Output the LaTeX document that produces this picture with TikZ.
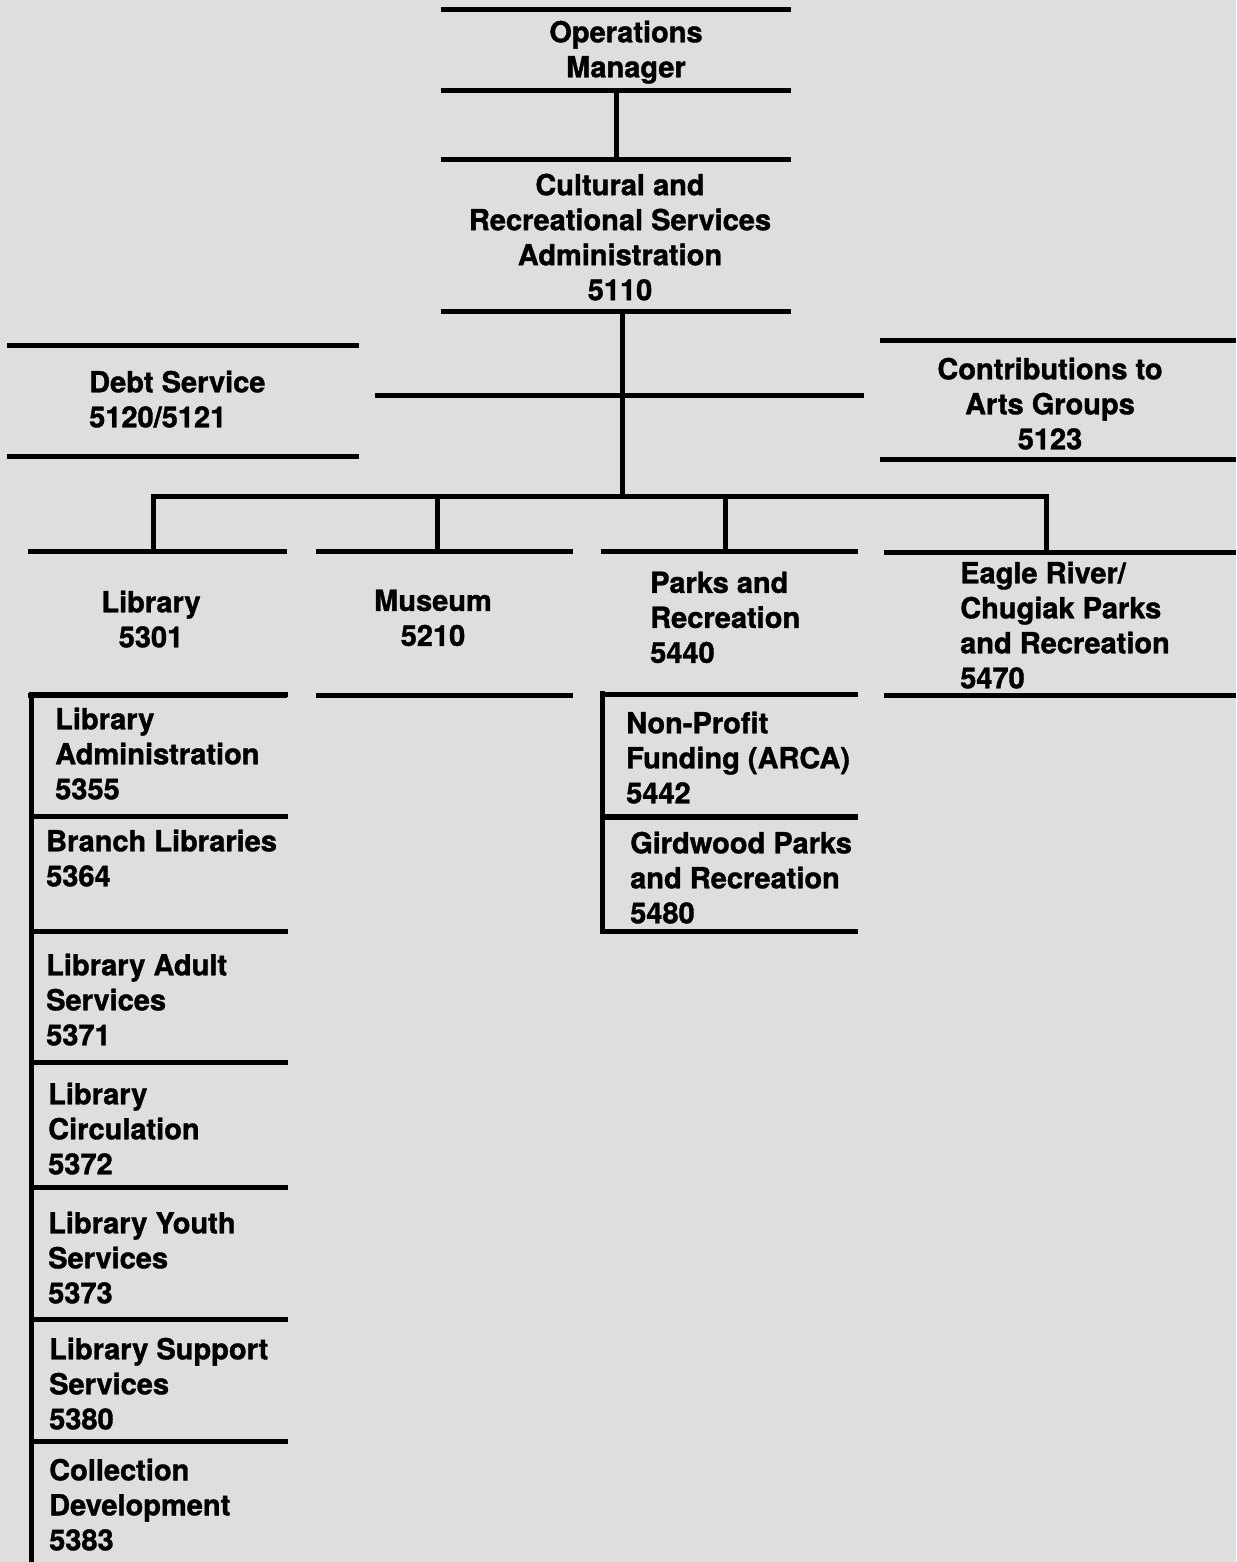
\documentclass[tikz,border=0pt]{standalone}
\usepackage{fontspec}
\setmainfont{TeX Gyre Heros}[BoldFeatures={FakeBold=1.2}]
\definecolor{paper}{RGB}{222,222,222}
\tikzset{
  rule/.style={line width=5pt, line cap=butt, line join=miter},
  area/.style={rectangle, inner sep=0pt, draw=none},
  lbl/.style={inner sep=0pt, font=\fontsize{29}{35}\selectfont\bfseries, text=black},
  ctr/.style={lbl, align=center, anchor=north},
  lft/.style={lbl, align=left, anchor=north west},
}
\begin{document}
\begin{tikzpicture}[x=1pt,y=-1pt]
\fill[paper] (0,0) rectangle (1236,1562);
\useasboundingbox (0,0) rectangle (1236,1562);

% box areas
\node[area, minimum width=350pt, minimum height=80pt]  (opm) at (616,50) {};
\node[area, minimum width=350pt, minimum height=151pt] (cra) at (616,235.5) {};
\node[area, minimum width=352pt, minimum height=110pt] (debt) at (183,401) {};
\node[area, minimum width=356pt, minimum height=118pt] (con) at (1058,400) {};
\node[area, minimum width=259pt, minimum height=143pt] (lib) at (157.5,623.5) {};
\node[area, minimum width=257pt, minimum height=143pt] (mus) at (444.5,623.5) {};
\node[area, minimum width=257pt, minimum height=142pt] (parks) at (729.5,623) {};
\node[area, minimum width=352pt, minimum height=142pt] (eagle) at (1060,624) {};
\node[area, minimum width=255pt, minimum height=123pt] (npf) at (730.5,755.5) {};
\node[area, minimum width=255pt, minimum height=114pt] (gw) at (730.5,874) {};
\node[area, minimum width=256pt, minimum height=122pt] (la) at (160,756) {};
\node[area, minimum width=256pt, minimum height=115pt] (bl) at (160,874.5) {};
\node[area, minimum width=256pt, minimum height=131pt] (las) at (160,997.5) {};
\node[area, minimum width=256pt, minimum height=125pt] (lc) at (160,1125.5) {};
\node[area, minimum width=256pt, minimum height=132pt] (ly) at (160,1254) {};
\node[area, minimum width=256pt, minimum height=122pt] (lss) at (160,1381) {};
\node[area, minimum width=256pt, minimum height=124pt] (cd) at (160,1504) {};

% rules of the boxes
\foreach \b in {opm,cra,debt,con,lib,mus,parks,eagle,gw,la,bl,las,lc,ly,lss,cd}{
  \draw[rule] (\b.north west) -- (\b.north east);
}
\foreach \b in {opm,cra,debt,con,lib,mus,parks,eagle,npf,gw}{
  \draw[rule] (\b.south west) -- (\b.south east);
}
\draw[rule, line cap=rect] (la.north west) -- (cd.south west);
\draw[rule, line cap=rect] (npf.north west) -- (gw.south west);

% connectors
\coordinate (busc) at (622,496);
\coordinate (mL) at (375,395);
\coordinate (mR) at (864,395);
\coordinate (bL) at (153,496);
\coordinate (bM) at (437,496);
\coordinate (bP) at (725,496);
\coordinate (bR) at (1046,496);
\draw[rule] (opm.south) -- (cra.north);
\draw[rule] (cra.south -| busc) -- (busc);
\draw[rule] (mL) -- (mR);
\draw[rule] (bL |- lib.north) -- (bL) -- (bR) -- (bR |- eagle.north);
\draw[rule] (bM) -- (bM |- mus.north);
\draw[rule] (bP) -- (bP |- parks.north);

% labels
\node[ctr] (t-opm) at (626,20.5) {Operations\\Manager};
\node[ctr] (t-cra) at (620,173.5) {Cultural and\\Recreational Services\\Administration\\5110};
\node[lft] (t-debt) at (89,370.5) {Debt Service\\5120/5121};
\node[ctr] (t-con) at (1050,357.5) {Contributions to\\Arts Groups\\5123};
\node[ctr] (t-lib) at (151,590.5) {Library\\5301};
\node[ctr] (t-mus) at (433,589.5) {Museum\\5210};
\node[lft] (t-parks) at (650,571.5) {Parks and\\Recreation\\5440};
\node[lft] (t-eagle) at (960,561.5) {Eagle River/\\Chugiak Parks\\and Recreation\\5470};
\node[lft] (t-npf) at (626,711.5) {Non-Profit\\Funding (ARCA)\\5442};
\node[lft] (t-gw) at (630,831.5) {Girdwood Parks\\and Recreation\\5480};
\node[lft] (t-la) at (55,707.5) {Library\\Administration\\5355};
\node[lft] (t-bl) at (46,829.5) {Branch Libraries\\5364};
\node[lft] (t-las) at (46,953.5) {Library Adult\\Services\\5371};
\node[lft] (t-lc) at (48,1082.5) {Library\\Circulation\\5372};
\node[lft] (t-ly) at (48,1211.5) {Library Youth\\Services\\5373};
\node[lft] (t-lss) at (49,1337.5) {Library Support\\Services\\5380};
\node[lft] (t-cd) at (49,1458.5) {Collection\\Development\\5383};
\end{tikzpicture}
\end{document}
